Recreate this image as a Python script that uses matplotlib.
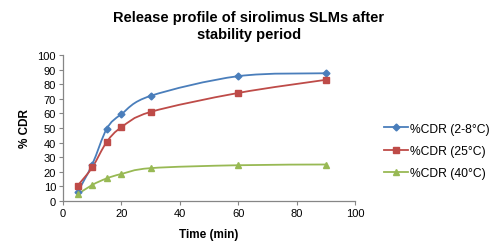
import matplotlib
matplotlib.use("Agg")
import matplotlib.pyplot as plt
import numpy as np
from matplotlib.path import Path
from matplotlib.patches import PathPatch
from matplotlib.lines import Line2D

plt.rcParams['font.family'] = ['Liberation Sans', 'DejaVu Sans']

time_min = [5, 10, 15, 20, 30, 60, 90]
cdr_2_8 = [6, 25, 49.5, 59.5, 72, 85.5, 87.5]
cdr_25 = [10.5, 23, 40.5, 50.5, 61, 74, 83]
cdr_40 = [4.5, 11, 15.5, 18.5, 22.5, 24.5, 25]
labels = ['%CDR (2-8°C)', '%CDR (25°C)', '%CDR (40°C)']
colors = ['#4A7EBB', '#BE4B48', '#98B954']
markers = ['D', 's', '^']
msizes = [3.5, 5, 5]

fig = plt.figure(figsize=(5.0, 2.53), dpi=100)
ax = fig.add_axes([63/500, 1-202/253, (355-63)/500, (202-56)/253])


def smooth_path(x, y, t=0.5):
    x = np.asarray(x, float); y = np.asarray(y, float)
    n = len(x)
    verts = [(x[0], y[0])]
    codes = [Path.MOVETO]
    for i in range(n - 1):
        p0 = np.array([x[max(i-1, 0)], y[max(i-1, 0)]])
        p1 = np.array([x[i], y[i]])
        p2 = np.array([x[i+1], y[i+1]])
        p3 = np.array([x[min(i+2, n-1)], y[min(i+2, n-1)]])
        c1 = p1 + (p2 - p0) * t / 3
        c2 = p2 - (p3 - p1) * t / 3
        verts += [tuple(c1), tuple(c2), tuple(p2)]
        codes += [Path.CURVE4] * 3
    return Path(verts, codes)

series = [cdr_2_8, cdr_25, cdr_40]
handles = []
for ys, c, m, ms, lab in zip(series, colors, markers, msizes, labels):
    patch = PathPatch(smooth_path(time_min, ys), facecolor='none', edgecolor=c, lw=1.3, zorder=2)
    ax.add_patch(patch)
    ax.plot(time_min, ys, linestyle='none', marker=m, color=c, markersize=ms, zorder=3)
    handles.append(Line2D([0], [0], color=c, lw=1.3, marker=m, markersize=ms, label=lab))

ax.set_xlim(0, 100)
ax.set_ylim(0, 100)
ax.set_xticks(range(0, 101, 20))
ax.set_yticks(range(0, 101, 10))
for s in ['top', 'right']:
    ax.spines[s].set_visible(False)
for s in ['left', 'bottom']:
    ax.spines[s].set_color('#868686')
    ax.spines[s].set_linewidth(0.9)
ax.tick_params(axis='both', colors='#868686', labelcolor='black', labelsize=8, length=3, width=0.8, pad=2)
ax.set_xlabel('Time (min)', fontsize=8.5, fontweight='bold', labelpad=7)
ax.set_ylabel('% CDR', fontsize=8.5, fontweight='bold', labelpad=5)

fig.text(0.498, 0.955, 'Release profile of sirolimus SLMs after\nstability period', ha='center', va='top',
         fontsize=10.5, fontweight='bold', linespacing=1.2)

fig.legend(handles=handles, loc='center left', bbox_to_anchor=(379/500, 1-152/253), frameon=False,
           fontsize=8.7, handlelength=2.0, handletextpad=0.2, labelspacing=0.85, borderaxespad=0)

fig.savefig('out.png', dpi=100)
